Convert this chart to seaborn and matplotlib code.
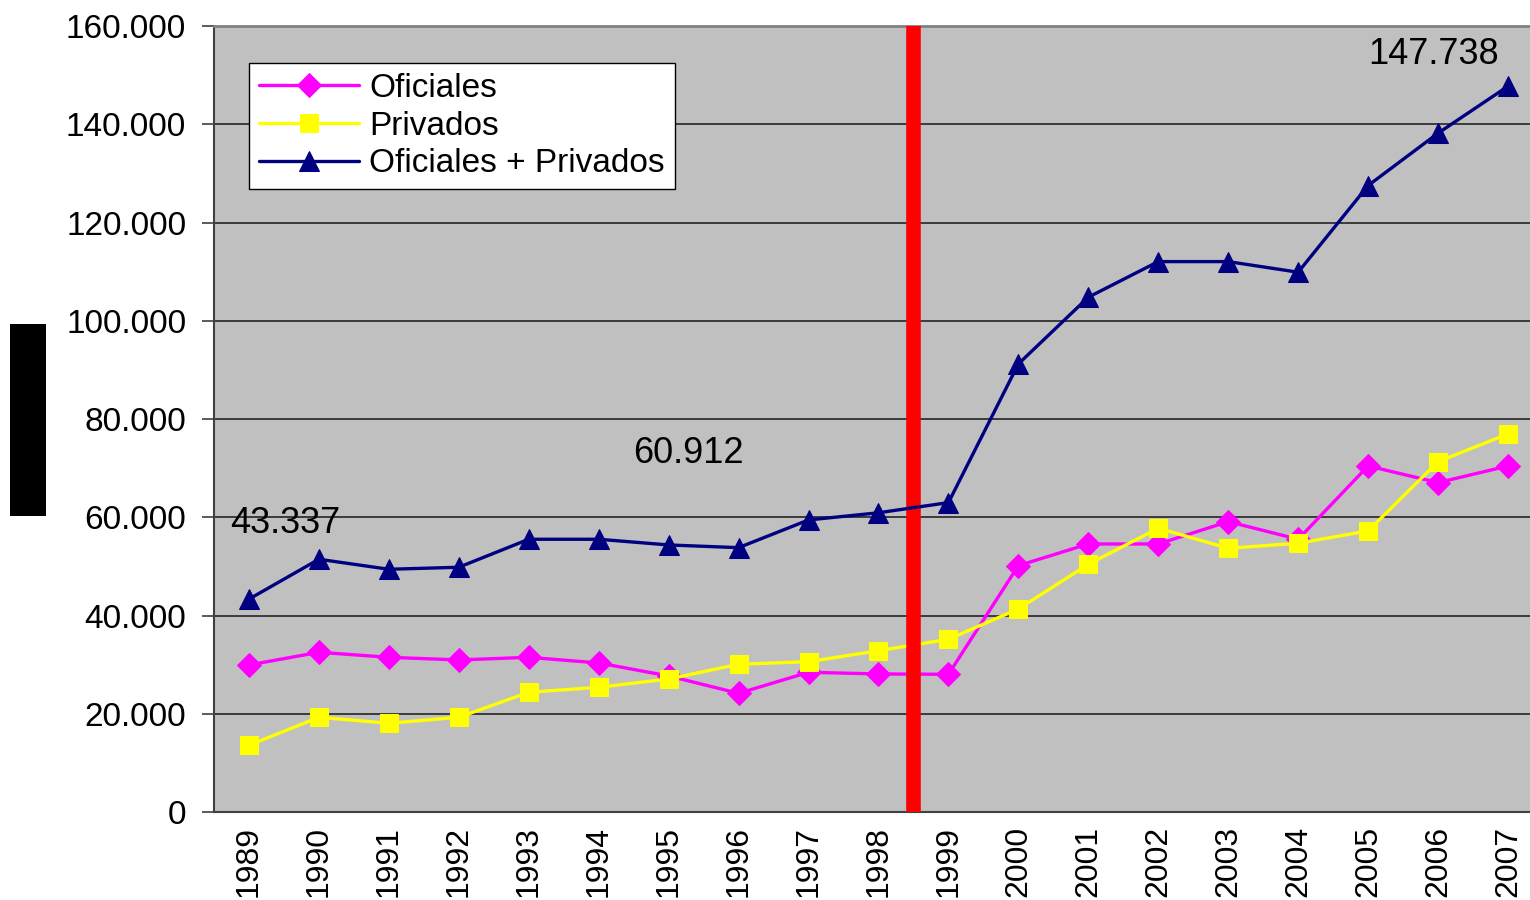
import matplotlib
matplotlib.use("Agg")
import matplotlib.pyplot as plt
import matplotlib.ticker as mticker
from matplotlib.patches import Rectangle
import seaborn as sns
import pandas as pd

years = ["1989", "1990", "1991", "1992", "1993", "1994", "1995", "1996", "1997", "1998",
         "1999", "2000", "2001", "2002", "2003", "2004", "2005", "2006", "2007"]
oficiales = [29930, 32510, 31490, 30950, 31490, 30340, 27690, 24160, 28440, 28100,
             28030, 50150, 54560, 54560, 59110, 55520, 70440, 67050, 70440]
privados = [13580, 19280, 18060, 19280, 24370, 25390, 27080, 30070, 30600, 32840,
            35160, 41330, 50430, 57760, 53690, 54710, 57210, 71320, 76960]
total = [43337, 51450, 49410, 49820, 55520, 55520, 54360, 53810, 59450, 60912,
         62980, 91210, 104790, 112040, 112040, 109880, 127520, 138180, 147738]
series_names = ["Oficiales", "Privados", "Oficiales + Privados"]
annotations = ["43.337", "60.912", "147.738"]
y_ticks = [0, 20000, 40000, 60000, 80000, 100000, 120000, 140000, 160000]

sns.set_style("white")
plt.rcParams["font.family"] = ["Liberation Sans", "DejaVu Sans"]
plt.rcParams["text.color"] = "black"
plt.rcParams["xtick.color"] = "black"
plt.rcParams["ytick.color"] = "black"
plt.rcParams["xtick.labelcolor"] = "black"
plt.rcParams["ytick.labelcolor"] = "black"

df = pd.DataFrame({"year": years, "Oficiales": oficiales, "Privados": privados,
                   "Oficiales + Privados": total})

fig = plt.figure(figsize=(15.3, 9), dpi=100)
ax = fig.add_axes([214 / 1530, 88 / 900, 1 - 214 / 1530, 786 / 900])
ax.set_facecolor("#C0C0C0")

styles = {
    "Oficiales": dict(color="#FF00FF", marker="D", ms=12, z=3),
    "Privados": dict(color="#FFFF00", marker="s", ms=13, z=3.1),
    "Oficiales + Privados": dict(color="#000080", marker="^", ms=15, z=3.2),
}
for name in series_names:
    st = styles[name]
    sns.lineplot(data=df, x="year", y=name, ax=ax, color=st["color"], marker=st["marker"],
                 markersize=st["ms"], markeredgecolor=st["color"], markerfacecolor=st["color"],
                 linewidth=2.4, label=name, zorder=st["z"], sort=False)

# red divider between 1998 and 1999
ax.axvline(9.5, color="#FF0000", linewidth=10.5, zorder=3.15)

ax.set_xlim(-0.5, 18 + 22 / 69.9)
ax.set_ylim(0, 160000)
ax.set_yticks(y_ticks)
ax.yaxis.set_major_formatter(mticker.FuncFormatter(lambda v, p: f"{v:,.0f}".replace(",", ".")))
ax.grid(axis="y", color="#303030", linewidth=1.3, zorder=1)
ax.set_axisbelow(True)
ax.set_xlabel("")
ax.set_ylabel("")

ax.set_xticks(range(len(years)))
ax.set_xticklabels(years, rotation=90, fontsize=23)
ax.set_xticks([i - 0.5 for i in range(len(years))], minor=True)
ax.tick_params(axis="x", which="major", length=0, pad=10)
ax.tick_params(axis="x", which="minor", length=9, width=1.2, color="#404040", direction="out")
ax.tick_params(axis="y", which="major", length=9, width=1.2, color="#404040", direction="out",
               pad=11, labelsize=24, left=True)

for s in ["left", "bottom"]:
    ax.spines[s].set_color("#404040")
    ax.spines[s].set_linewidth(1.5)
ax.spines["top"].set_color("#808080")
ax.spines["top"].set_linewidth(2)
ax.spines["right"].set_visible(False)

# annotations
ax.text(-0.27, 58640, annotations[0], fontsize=26, ha="left", va="center", zorder=5)
ax.text(6.29, 72890, annotations[1], fontsize=26, ha="center", va="center", zorder=5)
ax.text(16.94, 154130, annotations[2], fontsize=26, ha="center", va="center", zorder=5)

leg = ax.legend(loc="upper left", bbox_to_anchor=(35 / 1316, (812 - 63) / 786),
                borderaxespad=0, fontsize=24, frameon=True, fancybox=False,
                edgecolor="black", facecolor="white", framealpha=1,
                handlelength=3.0, handletextpad=0.3, labelspacing=0.2,
                borderpad=0.3)
leg.get_frame().set_linewidth(1.0)
leg.set_zorder(6)
for line in leg.get_lines():
    line.set_linewidth(2.4)

# redacted axis title block
fig.patches.append(Rectangle((10 / 1530, (900 - 516) / 900), 36 / 1530, 192 / 900,
                             transform=fig.transFigure, facecolor="black",
                             edgecolor="none", figure=fig))

fig.savefig("out.png", dpi=100)
